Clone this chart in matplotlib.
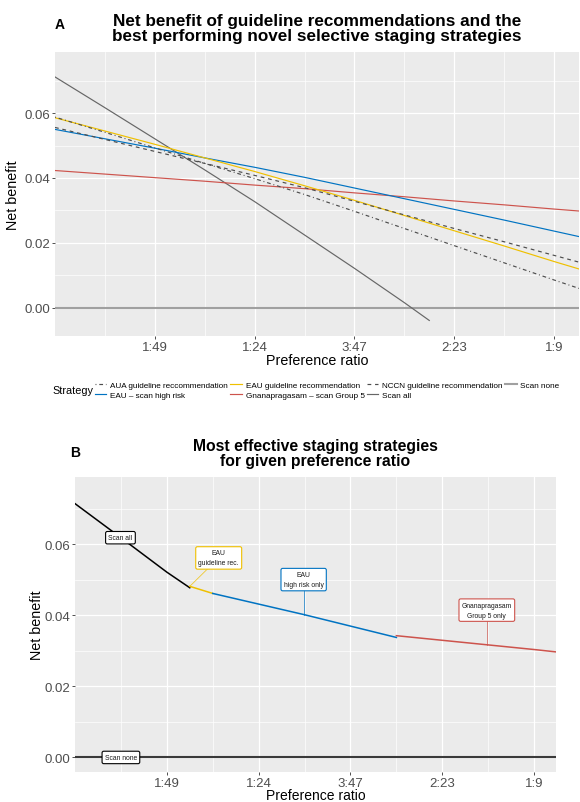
# net benefit curves, two panels
import matplotlib
matplotlib.use("Agg")
import matplotlib.pyplot as plt
from matplotlib.lines import Line2D

plt.rcParams['font.family'] = 'Liberation Sans'

# threshold probabilities (x) and tick labels
thresholds = [0, 0.01, 0.02, 0.03, 0.04, 0.05, 0.06, 0.07, 0.08, 0.09, 0.10, 0.105]
tick_pos = [0.02, 0.04, 0.06, 0.08, 0.10]
tick_labels = ['1:49', '1:24', '3:47', '2:23', '1:9']

# panel A values
aua = [0.0588, 0.0541, 0.0493, 0.0445, 0.0398, 0.0349, 0.0297, 0.0244, 0.0191, 0.0138, 0.0085, 0.0059]
eau_high = [0.0550, 0.0521, 0.0492, 0.0462, 0.0433, 0.0402, 0.0369, 0.0336, 0.0303, 0.0270, 0.0236, 0.0219]
eau_guideline = [0.0586, 0.0545, 0.0504, 0.0462, 0.0420, 0.0376, 0.0331, 0.0284, 0.0237, 0.0190, 0.0142, 0.0119]
gnana = [0.0423, 0.0412, 0.0401, 0.0390, 0.0378, 0.0367, 0.0354, 0.0342, 0.0329, 0.0317, 0.0304, 0.0298]
nccn = [0.0556, 0.0519, 0.0482, 0.0445, 0.0408, 0.0370, 0.0328, 0.0286, 0.0244, 0.0203, 0.0161, 0.0140]
scan_all_x = [0, 0.01, 0.02, 0.03, 0.04, 0.05, 0.06, 0.07, 0.075]
scan_all = [0.0712, 0.0617, 0.0521, 0.0425, 0.0327, 0.0224, 0.0121, 0.0015, -0.0040]
scan_none = [0.0] * len(thresholds)

# panel B: best strategy per threshold
best_all_x = [0, 0.01, 0.02, 0.025]
best_all = [0.0715, 0.0619, 0.0522, 0.0478]
best_guid_x = [0.025, 0.03]
best_guid = [0.0482, 0.0462]
best_high_x = [0.03, 0.04, 0.05, 0.06, 0.07]
best_high = [0.0462, 0.0432, 0.0402, 0.0370, 0.0338]
best_gnana_x = [0.07, 0.08, 0.09, 0.10, 0.105]
best_gnana = [0.0343, 0.0330, 0.0317, 0.0304, 0.0297]

# labels in panel B: text, label position, point on line, colour
b_labels = [
    ('Scan all', (0.0099, 0.0619), None, 'black'),
    ('EAU\nguideline rec.', (0.0313, 0.0562), (0.0250, 0.0482), '#EFC000'),
    ('EAU\nhigh risk only', (0.0498, 0.0501), (0.0498, 0.0402), '#0073C2'),
    ('Gnanapragasam\nGroup 5 only', (0.0897, 0.0415), (0.0897, 0.0316), '#CD534C'),
    ('Scan none', (0.0100, 0.0), None, 'black'),
]

BLUE, YELLOW, RED = '#0073C2', '#EFC000', '#CD534C'

W, H = 580, 803
fig = plt.figure(figsize=(W / 100, H / 100), dpi=100)


def gg_axes(ax, xlim, ylim):
    ax.set_facecolor('#EBEBEB')
    for s in ax.spines.values():
        s.set_visible(False)
    ax.set_xlim(*xlim)
    ax.set_ylim(*ylim)
    ax.set_xticks(tick_pos)
    ax.set_xticklabels(tick_labels)
    ax.set_xticks([0.01, 0.03, 0.05, 0.07, 0.09], minor=True)
    ax.set_yticks([0.0, 0.02, 0.04, 0.06])
    ax.set_yticklabels(['0.00', '0.02', '0.04', '0.06'])
    ax.set_yticks([0.01, 0.03, 0.05, 0.07], minor=True)
    ax.grid(which='major', color='white', lw=0.9)
    ax.grid(which='minor', color='white', lw=0.5)
    ax.set_axisbelow(True)
    ax.tick_params(which='major', length=2.5, width=0.6, color='#333333',
                   labelcolor='#4D4D4D', labelsize=9.5, pad=1.2)
    ax.tick_params(which='minor', length=0)
    ax.set_xlabel('Preference ratio', fontsize=10.3, labelpad=0)
    ax.set_ylabel('Net benefit', fontsize=10.3)
    ax.yaxis.set_label_coords(-0.065, 0.5)


# ---------- panel A ----------
axA = fig.add_axes([55 / W, 1 - 337 / H, 524 / W, 284 / H])
gg_axes(axA, (0, 0.105), (-0.0088, 0.0789))
axA.yaxis.set_label_coords(-0.066, 0.5)
lw = 0.85
axA.plot(thresholds, scan_none, color='#A0A0A0', lw=1.5)
axA.plot(scan_all_x, scan_all, color='#666666', lw=lw)
axA.plot(thresholds, gnana, color=RED, lw=lw)
axA.plot(thresholds, eau_high, color=BLUE, lw=lw)
axA.plot(thresholds, eau_guideline, color=YELLOW, lw=lw)
axA.plot(thresholds, nccn, color='#4D4D4D', lw=lw, dashes=(3.2, 3.2))
axA.plot(thresholds, aua, color='#4D4D4D', lw=lw, dashes=(0.8, 2.4, 3.2, 2.4))

fig.text(60 / W, 1 - 25 / H, 'A', fontsize=10, fontweight='bold', ha='center', va='center')
fig.text(317 / W, 1 - 29 / H,
         'Net benefit of guideline recommendations and the\nbest performing novel selective staging strategies',
         fontsize=12.3, fontweight='bold', ha='center', va='center', linespacing=1.0)

# legend
handles = [
    Line2D([], [], color='#4D4D4D', lw=lw, dashes=(0.8, 2.4, 3.2, 2.4)),
    Line2D([], [], color=BLUE, lw=lw),
    Line2D([], [], color=YELLOW, lw=lw),
    Line2D([], [], color=RED, lw=lw),
    Line2D([], [], color='#4D4D4D', lw=lw, dashes=(3.2, 3.2)),
    Line2D([], [], color='#666666', lw=lw),
    Line2D([], [], color='#A0A0A0', lw=1.5),
]
names = ['AUA guideline reccommendation', 'EAU \u2013 scan high risk',
         'EAU guideline recommendation', 'Gnanapragasam \u2013 scan Group 5',
         'NCCN guideline recommendation', 'Scan all', 'Scan none']
fig.legend(handles, names, loc='upper left', bbox_to_anchor=(95 / W, 1 - 382 / H),
           ncol=4, frameon=False, fontsize=5.9, handlelength=1.4, handletextpad=0.45,
           columnspacing=0.3, labelspacing=0.3, borderpad=0, borderaxespad=0)
fig.text(52 / W, 1 - 391 / H, 'Strategy', fontsize=7.8, ha='left', va='center')

# ---------- panel B ----------
axB = fig.add_axes([75 / W, 1 - 773 / H, 480.7 / W, 295 / H])
gg_axes(axB, (0, 0.1047), (-0.0041, 0.079))
axB.tick_params(axis='x', which='major', pad=0.8)
axB.set_xlabel('Preference ratio', fontsize=10, labelpad=-0.3)
axB.axhline(0, color='#3A3A3A', lw=1.5)
axB.plot(best_all_x, best_all, color='black', lw=1.1)
axB.plot(best_guid_x, best_guid, color=YELLOW, lw=1.1)
axB.plot(best_high_x, best_high, color=BLUE, lw=1.1)
axB.plot(best_gnana_x, best_gnana, color=RED, lw=1.1)

for text, (lx, ly), pt, col in b_labels:
    if pt is not None:
        axB.plot([pt[0], lx], [pt[1], ly], color=col, lw=0.6, alpha=0.8, zorder=3)
    axB.text(lx, ly, text, fontsize=4.9, ha='center', va='center', color='#1A1A1A',
             linespacing=1.6, zorder=4,
             bbox=dict(boxstyle='round,pad=0.4,rounding_size=0.25', fc='white', ec=col, lw=0.8))

fig.text(75 / W, 1 - 453 / H, 'B', fontsize=10, fontweight='bold', ha='center', va='center')
fig.text(315 / W, 1 - 454 / H, 'Most effective staging strategies\nfor given preference ratio',
         fontsize=11.3, fontweight='bold', ha='center', va='center', linespacing=1.0)

fig.savefig('out.png', dpi=100)
